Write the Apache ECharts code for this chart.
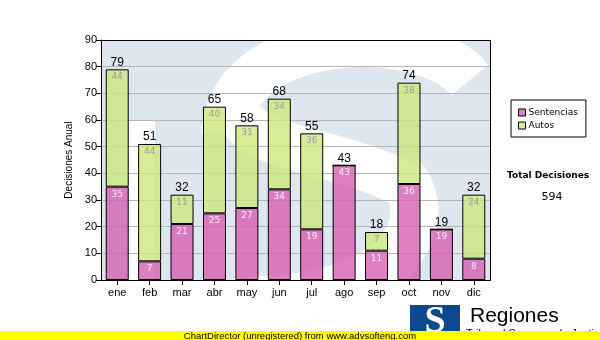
<!DOCTYPE html>
<html><head><meta charset="utf-8">
<script src="https://cdn.jsdelivr.net/npm/echarts@6/dist/echarts.min.js"></script>
<style>html,body{margin:0;padding:0;background:#fff}#c{width:600px;height:340px}</style>
</head><body><div id="c"></div>
<script>
const categories = ['ene','feb','mar','abr','may','jun','jul','ago','sep','oct','nov','dic'];
const sentencias = [35,7,21,25,27,34,19,43,11,36,19,8];
const autos = [44,44,11,40,31,34,36,0,7,38,0,24];
const totals = categories.map((c,i)=>sentencias[i]+autos[i]);
const grandTotal = totals.reduce((a,b)=>a+b,0);
const yMin = 0, yMax = 90, yStep = 10;

const chart = echarts.init(document.getElementById('c'), null, {renderer:'canvas'});
const pinkFill = 'rgba(214,92,175,0.78)';
const greenFill = 'rgba(203,232,120,0.78)';
chart.setOption({
  animation:false,
  backgroundColor:'#fff',
  grid:{left:101, top:40, width:389, height:240, show:false},
  legend:{
    left:511, top:100, orient:'vertical', borderColor:'#000', borderWidth:1,
    padding:[8,8,7,7], itemWidth:7, itemHeight:7, itemGap:4, icon:'rect',
    textStyle:{fontFamily:'DejaVu Sans', fontSize:9, color:'#000', padding:[0,0,0,-2]},
    data:[{name:'Sentencias', itemStyle:{color:'#dd7fc0', borderColor:'#000', borderWidth:1}},
          {name:'Autos', itemStyle:{color:'#d6ec96', borderColor:'#000', borderWidth:1}}]
  },
  xAxis:{type:'category', data:categories,
    axisLine:{show:true, lineStyle:{color:'#000', width:1}},
    axisTick:{show:true, alignWithLabel:true, length:5, lineStyle:{color:'#000'}},
    axisLabel:{color:'#000', fontFamily:'Liberation Sans, Arial', fontSize:11, margin:7},
    splitLine:{show:false}},
  yAxis:{type:'value', min:yMin, max:yMax, interval:yStep,
    name:'Decisiones Anual', nameLocation:'middle', nameGap:27,
    nameTextStyle:{color:'#000', fontFamily:'Liberation Sans, Arial', fontSize:10},
    axisLine:{show:true, lineStyle:{color:'#000', width:1}},
    axisTick:{show:true, length:5, lineStyle:{color:'#000'}},
    axisLabel:{color:'#000', fontFamily:'Liberation Sans, Arial', fontSize:11, margin:4},
    splitLine:{show:true, lineStyle:{color:'#b4b4b4', width:1}}},
  series:[
    {name:'Sentencias', type:'bar', stack:'t', barWidth:23, data:sentencias,
     itemStyle:{color:pinkFill, borderColor:'#000', borderWidth:1},
     label:{show:true, position:'insideTop', distance:3, fontSize:9, fontFamily:'DejaVu Sans', color:'#fbeaf5',
       formatter:p=>p.value>0?p.value:''}},
    {name:'Autos', type:'bar', stack:'t', barWidth:23, data:autos,
     itemStyle:{color:greenFill, borderColor:'#000', borderWidth:1},
     label:{show:true, position:'insideTop', distance:3, fontSize:9, fontFamily:'DejaVu Sans', color:'#9c9c9c',
       formatter:p=>p.value>0?p.value:''}},
    {name:'Total', type:'bar', stack:'t', barWidth:23, data:categories.map(()=>0),
     itemStyle:{color:'transparent', borderWidth:0},
     label:{show:true, position:'top', distance:1, fontSize:12, fontFamily:'Liberation Sans, Arial', color:'#000',
       formatter:p=>totals[p.dataIndex]}}
  ],
  graphic:[
    {type:'rect', z:-10, zlevel:0, silent:true, shape:{x:101,y:40,width:389,height:240}, style:{fill:'#dee7f0'}},
    {type:'bezierCurve', z:-9, silent:true, shape:{x1:470,y1:80,x2:225,y2:135,cpx1:420,cpy1:20,cpx2:230,cpy2:30}, style:{stroke:'#fff', lineWidth:48, fill:null}},
    {type:'bezierCurve', z:-9, silent:true, shape:{x1:240,y1:115,x2:405,y2:185,cpx1:255,cpy1:150,cpx2:340,cpy2:150}, style:{stroke:'#fff', lineWidth:46, fill:null}},
    {type:'bezierCurve', z:-9, silent:true, shape:{x1:400,y1:175,x2:250,y2:300,cpx1:440,cpy1:220,cpx2:400,cpy2:300}, style:{stroke:'#fff', lineWidth:48, fill:null}},
    {type:'rect', z:-9, silent:true, shape:{x:129,y:121,width:26,height:160}, style:{fill:'#fff'}},
    {type:'rect', z:8, silent:true, shape:{x:101.5,y:40.5,width:389,height:240}, style:{fill:null, stroke:'#000', lineWidth:1}},
    {type:'text', z:10, left:552-45, top:171, style:{text:'Total Decisiones', font:'bold 9px "DejaVu Sans"', fill:'#000', align:'left'}},
    {type:'text', z:10, style:{x:552, y:197, text:String(grandTotal), font:'11px "DejaVu Sans"', fill:'#000', align:'center', verticalAlign:'middle'}},
    {type:'rect', z:10, shape:{x:410,y:305,width:50,height:30}, style:{fill:'#0b4a8c'}},
    {type:'text', z:11, style:{x:435, y:322, text:'S', font:'bold 38px "Liberation Serif"', fill:'#fff', align:'center', verticalAlign:'middle'}},
    {type:'text', z:10, style:{x:470, y:316, text:'Regiones', font:'21px "Liberation Sans"', fill:'#000', align:'left', verticalAlign:'middle'}},
    {type:'text', z:10, style:{x:466, y:328, text:'Tribunal Supremo de Justicia', font:'11px "Liberation Sans"', fill:'#000', align:'left', verticalAlign:'top'}},
    {type:'rect', z:20, shape:{x:0,y:331,width:600,height:9}, style:{fill:'#ffff00'}},
    {type:'text', z:21, style:{x:300, y:336, text:'ChartDirector (unregistered) from www.advsofteng.com', font:'9.5px "Liberation Sans"', fill:'#000', align:'center', verticalAlign:'middle'}}
  ]
});
</script></body></html>
